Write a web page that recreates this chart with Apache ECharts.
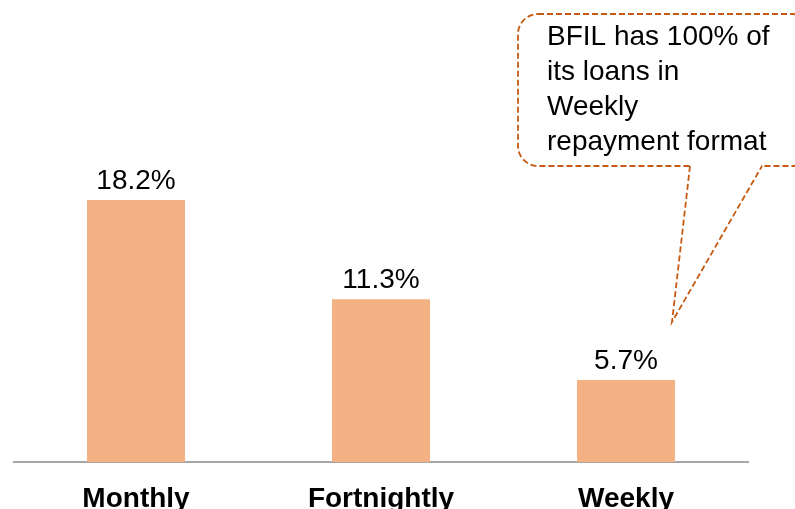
<!DOCTYPE html>
<html>
<head>
<meta charset="utf-8">
<script src="https://cdn.jsdelivr.net/npm/echarts@6/dist/echarts.min.js"></script>
<style>
  html, body { margin: 0; padding: 0; background: #fff; }
  #main { width: 795px; height: 509px; }
</style>
</head>
<body>
<div id="main"></div>
<script>
var categories = ['Monthly', 'Fortnightly', 'Weekly'];
var shares = [18.2, 11.3, 5.7];
var calloutText = 'BFIL has 100% of\nits loans in\nWeekly\nrepayment format';

var myChart = echarts.init(document.getElementById('main'));
var calloutStroke = { fill: 'none', stroke: '#C55A11', lineWidth: 1.8, lineDash: [6, 3] };
var option = {
    animation: false,
    textStyle: { fontFamily: 'Liberation Sans, Arial, sans-serif' },
    grid: { left: 13.5, right: 46.5, top: 174, bottom: 47, outerBoundsMode: 'none', containLabel: false },
    xAxis: {
        type: 'category',
        data: categories,
        axisLine: { lineStyle: { color: '#898989', width: 1.5 } },
        axisTick: { show: false },
        axisLabel: { color: '#000', fontSize: 28, fontWeight: 'bold', margin: 23 }
    },
    yAxis: {
        type: 'value',
        min: 0,
        max: 20,
        show: false
    },
    series: [{
        type: 'bar',
        data: shares,
        barWidth: 98,
        itemStyle: { color: '#F4B183' },
        label: {
            show: true,
            position: 'top',
            color: '#000',
            fontSize: 28,
            formatter: function (p) { return p.value.toFixed(1) + '%'; }
        }
    }],
    graphic: [{
        type: 'rect',
        shape: { x: 518, y: 14, width: 294, height: 152, r: 20 },
        style: calloutStroke
    }, {
        // gap in the box edge where the pointer leaves it
        type: 'line',
        shape: { x1: 691, y1: 166, x2: 761, y2: 166 },
        style: { stroke: '#fff', lineWidth: 4 }
    }, {
        type: 'polyline',
        shape: { points: [[690, 166], [672, 322], [762, 166]] },
        style: calloutStroke
    }, {
        type: 'text',
        x: 547,
        y: 20,
        style: {
            text: calloutText,
            fill: '#000',
            fontSize: 28,
            lineHeight: 35,
            fontFamily: 'Liberation Sans, Arial, sans-serif'
        }
    }]
};
myChart.setOption(option);
</script>
</body>
</html>
